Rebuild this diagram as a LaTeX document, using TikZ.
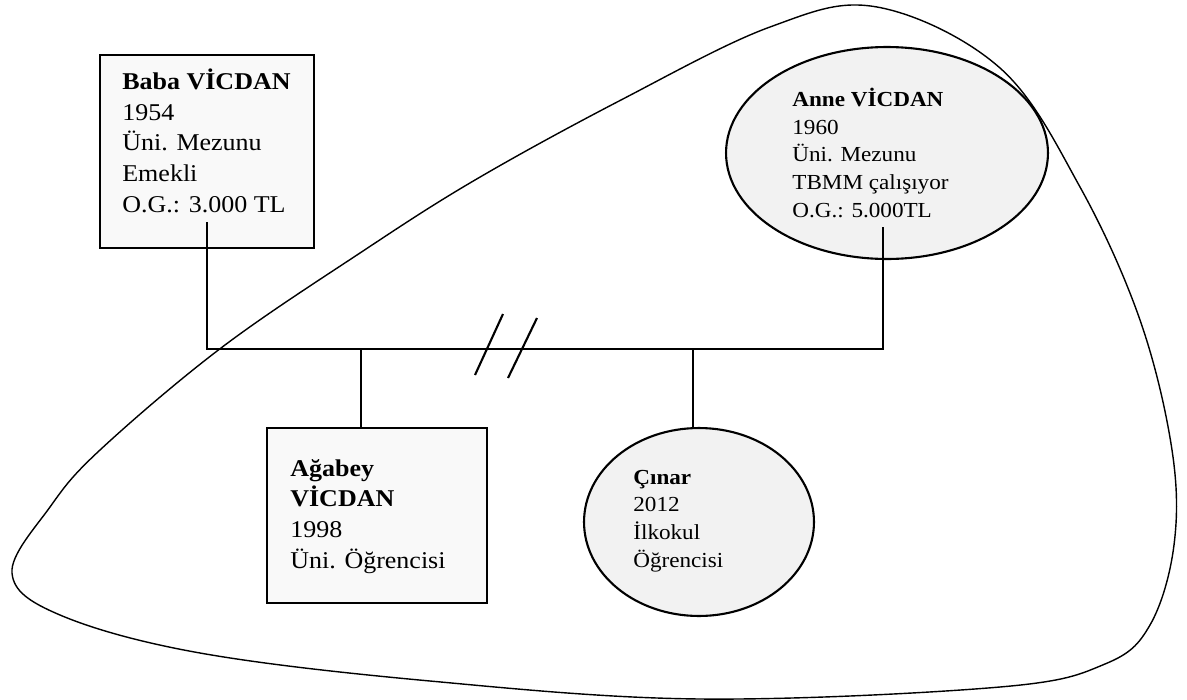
\documentclass[tikz,border=0pt]{standalone}
\usepackage{xcolor}
\usepackage{fontspec}
\setmainfont{Liberation Serif}[FakeStretch=1.08]
\usepackage{tikz}
\usetikzlibrary{shapes}
\usetikzlibrary{positioning}
\usetikzlibrary{shapes.geometric}
\tikzset{
    malebox/.style = {rectangle, draw=black, line width=1.2pt, fill=gray!5},
    femaleell/.style = {ellipse, draw=black, line width=1.2pt, fill=gray!10},
    bigtext/.style = {align=left, inner sep=0pt, anchor=base west, font=\fontsize{13.7}{17.4}\selectfont},
    smalltext/.style = {align=left, inner sep=0pt, anchor=base west, font=\fontsize{12.2}{15.7}\selectfont},
    edgen/.style = {-, line width=1.2pt},
    houseline/.style = {line width=0.8pt}
}
\begin{document}
\begin{tikzpicture}[x=0.02cm, y=-0.02cm]
\useasboundingbox (0,0) rectangle (1187,700);
% household boundary
\draw[houseline] plot[smooth cycle, tension=0.6] coordinates {
    (877,7) (1000,68) (1080,187) (1140,320) (1172,450) (1174,545) (1150,625) (1105,664)
    (1000,687) (700,699) (430,681) (200,653) (60,615) (12,573) (50,507)
    (100,450) (221,348) (360,253) (475,180) (621,100) (770,27)};
%
\node[malebox, minimum width=4.28cm, minimum height=3.86cm] at (207,151.5) (baba) {};
\node[femaleell, minimum width=6.44cm, minimum height=4.24cm] at (887,153) (anne) {};
\node[malebox, minimum width=4.4cm, minimum height=3.5cm] at (377,515.5) (agabey) {};
\node[femaleell, minimum width=4.6cm, minimum height=3.76cm] at (699,522) (cinar) {};
% texts, anchored at the baseline of their last line
\node[bigtext] at (122,212) (babatxt)
    {\textbf{Baba VİCDAN}\\1954\\Üni. Mezunu\\Emekli\\O.G.: 3.000 TL};
\node[smalltext] at (792,217) (annetxt)
    {\textbf{Anne VİCDAN}\\1960\\Üni. Mezunu\\TBMM çalışıyor\\O.G.: 5.000TL};
\node[bigtext] at (290,568) (agabeytxt)
    {\textbf{Ağabey}\\\textbf{VİCDAN}\\1998\\Üni. Öğrencisi};
\node[smalltext] at (633,567) (cinartxt)
    {\textbf{Çınar}\\2012\\İlkokul\\Öğrencisi};
%
\coordinate (babaend) at (207,222);
\coordinate (anneend) at (883,227);
\coordinate (marL) at (207,349);
\coordinate (marR) at (883,349);
\coordinate (dropA) at (361,349);
\coordinate (dropC) at (693,349);
%
\draw[edgen] (babaend) -- (marL) -- (marR) -- (anneend);
\draw[edgen] (dropA) -- (agabey.north -| dropA);
\draw[edgen] (dropC) -- (cinar.north -| dropC);
% divorce mark
\draw[edgen] (475,375) -- (503,314);
\draw[edgen] (508,378) -- (537,318);
\end{tikzpicture}
\end{document}
